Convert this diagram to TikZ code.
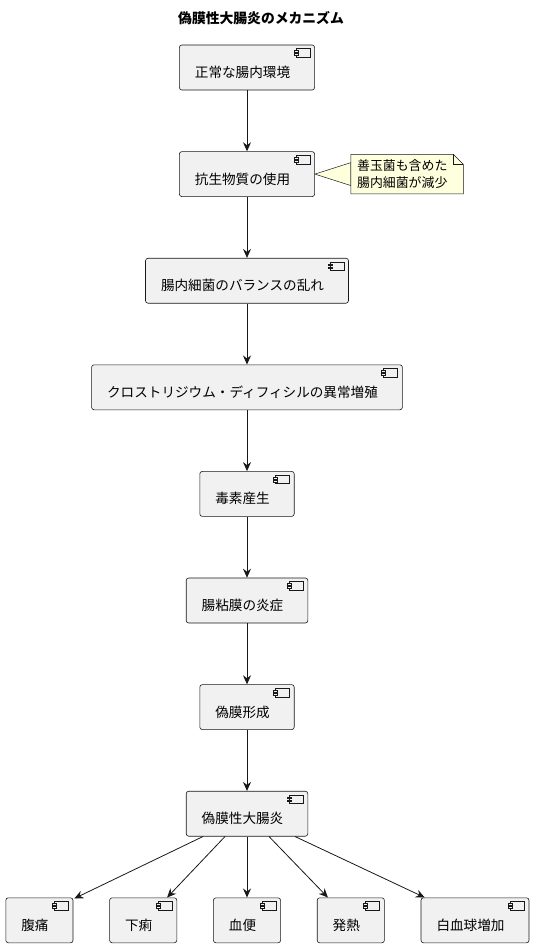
\documentclass[tikz,border=0pt]{standalone}
\usepackage{fontspec}
\setmainfont{Noto Sans CJK JP}
\usepackage{tikz}
\usetikzlibrary{arrows.meta,positioning,calc}
\definecolor{edge}{HTML}{181818}
\definecolor{boxfill}{HTML}{F1F1F1}
\definecolor{notefill}{HTML}{FEFFDD}

\begin{document}
\begin{tikzpicture}[x=1pt,y=1pt,node distance=61pt and 36pt,
  every node/.style={font=\fontsize{13.6}{16}\selectfont},
  comp/.style={draw=edge,fill=boxfill,line width=0.6pt,rounded corners=2.5pt,minimum height=45pt,inner xsep=15.5pt,inner ysep=0pt,text height=20pt,text depth=0pt,execute at end node=\kern9pt},
  flow/.style={-{Stealth[length=9pt,width=8pt,inset=3pt]},edge,line width=0.8pt}]
\useasboundingbox (0,0) rectangle (533,-945);
\node[font=\fontsize{13.8}{16}\selectfont\bfseries] (title) at (261,-18) {偽膜性大腸炎のメカニズム};
% main chain
\node[comp] (normal) at (247,-67.5) {正常な腸内環境};
\node[comp,below=of normal] (antibiotic) {抗生物質の使用};
\node[comp,below=of antibiotic] (imbalance) {腸内細菌のバランスの乱れ};
\node[comp,below=of imbalance] (cdiff) {クロストリジウム・ディフィシルの異常増殖};
\node[comp,below=of cdiff] (toxin) {毒素産生};
\node[comp,below=of toxin] (inflam) {腸粘膜の炎症};
\node[comp,below=of inflam] (pseudo) {偽膜形成};
\node[comp,below=of pseudo] (colitis) {偽膜性大腸炎};
% symptoms
\node[comp,below=of colitis] (blood) {血便};
\node[comp,left=of blood] (diarrhea) {下痢};
\node[comp,left=of diarrhea] (pain) {腹痛};
\node[comp,right=of blood] (fever) {発熱};
\node[comp,right=of fever] (leuko) {白血球増加};
% component icons
\foreach \n in {normal,antibiotic,imbalance,cdiff,toxin,inflam,pseudo,colitis,pain,diarrhea,blood,fever,leuko}{
  \draw[edge,fill=boxfill,line width=0.5pt] ($(\n.north east)+(-19,-4)$) rectangle ($(\n.north east)+(-5,-12.5)$);
  \draw[edge,fill=boxfill,line width=0.5pt] ($(\n.north east)+(-21,-6)$) rectangle ($(\n.north east)+(-17,-7.8)$);
  \draw[edge,fill=boxfill,line width=0.5pt] ($(\n.north east)+(-21,-9)$) rectangle ($(\n.north east)+(-17,-10.8)$);
}
% note
\node[right=36pt of antibiotic,text width=100pt,align=left,inner xsep=6pt,inner ysep=0pt,minimum height=39pt,font=\fontsize{12.9}{16.5}\selectfont] (memo) {善玉菌も含めた\\腸内細菌が減少};
\draw[edge,fill=notefill,line width=0.5pt] (antibiotic.east) -- ($(memo.west)+(0,11.5)$) -- ($(memo.west)+(0,-11.5)$) -- cycle;
\draw[edge,fill=notefill,line width=0.5pt] (memo.south west) -- (memo.north west) -- ($(memo.north east)+(-10,0)$) -- ($(memo.north east)+(0,-10)$) -- (memo.south east) -- cycle;
\draw[edge,line width=0.5pt] ($(memo.north east)+(-10,0)$) |- ($(memo.north east)+(0,-10)$);
\node[text width=100pt,align=left,inner xsep=6pt,inner ysep=0pt,font=\fontsize{12.9}{16.5}\selectfont] at (memo) {善玉菌も含めた\\腸内細菌が減少};
% arrows
\draw[flow] (normal) -- (antibiotic);
\draw[flow] (antibiotic) -- (imbalance);
\draw[flow] (imbalance) -- (cdiff);
\draw[flow] (cdiff) -- (toxin);
\draw[flow] (toxin) -- (inflam);
\draw[flow] (inflam) -- (pseudo);
\draw[flow] (pseudo) -- (colitis);
\draw[flow] ($(colitis.south)+(-44,0)$) -- ($(pain.north east)+(1,-1)$);
\draw[flow] ($(colitis.south)+(-22,0)$) -- ($(diarrhea.north east)+(-10,0)$);
\draw[flow] (colitis.south) -- (blood.north);
\draw[flow] ($(colitis.south)+(22,0)$) -- ($(fever.north west)+(11,0)$);
\draw[flow] ($(colitis.south)+(48,0)$) -- ($(leuko.north west)+(4,0)$);
\end{tikzpicture}
\end{document}
